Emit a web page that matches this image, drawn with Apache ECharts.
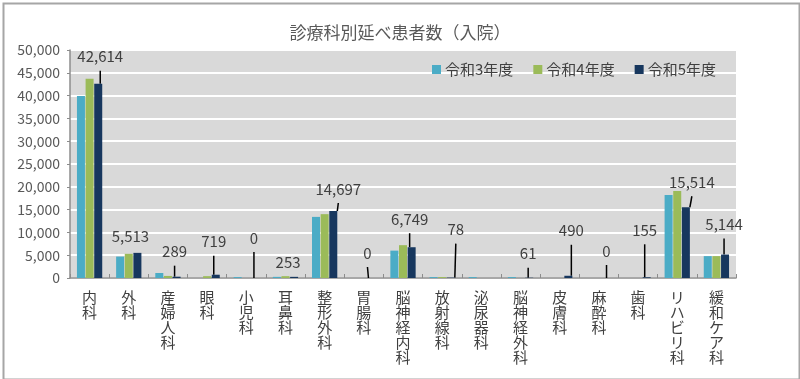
<!DOCTYPE html>
<html>
<head>
<meta charset="utf-8">
<script src="https://cdn.jsdelivr.net/npm/echarts@6/dist/echarts.min.js"></script>
<style>
html,body{margin:0;padding:0;background:#fff;}
#main{width:800px;height:379px;}
</style>
</head>
<body>
<div id="main"></div>
<script>
var categories = ['内科','外科','産婦人科','眼科','小児科','耳鼻科','整形外科','胃腸科','脳神経内科','放射線科','泌尿器科','脳神経外科','皮膚科','麻酔科','歯科','リハビリ科','緩和ケア科'];
var seriesNames = ['令和3年度','令和4年度','令和5年度'];
var r3 = [39900, 4700, 1100, 0, 200, 250, 13400, 0, 6000, 200, 200, 200, 0, 0, 0, 18200, 4800];
var r4 = [43700, 5300, 450, 400, 0, 400, 14000, 0, 7200, 200, 0, 0, 0, 0, 0, 19100, 4800];
var r5 = [42614, 5513, 289, 719, 0, 253, 14697, 0, 6749, 78, null, 61, 490, 0, 155, 15514, 5144];
var yTicks = [0, 50000, 5000];

// label offsets (dx, dy) for the 令和5年度 data labels
var labelOffsets = [[2,-14],[-7,-4],[-2,-12],[-2,-20],[-1,-27],[-6,-2],[5,-9],[-5,-12],[-2,-15],[5,-35],[0,0],[-1,-11],[3,-32],[-1,-14],[-2,-34],[6,-12],[-1,-17]];
var lineCats = {0:1,2:1,3:1,4:1,6:1,7:1,8:1,9:1,11:1,12:1,13:1,14:1,15:1,16:1};
var labelLH = 28;
var labelShift = 6;

var font = '"Noto Sans CJK JP", "Noto Sans", sans-serif';
var colors = ['#4bacc6', '#9bbb59', '#17375e'];

var chart = echarts.init(document.getElementById('main'), null, {renderer: 'canvas'});

var r5Data = r5.map(function(v, i){
  var item = {value: v};
  if (!lineCats[i]) item.labelLine = {show: false};
  return item;
});

var option = {
  animation: false,
  color: colors,
  title: {
    text: '診療科別延べ患者数（入院）',
    left: 395, top: 19, textAlign: 'center',
    textStyle: {fontFamily: font, fontSize: 17, fontWeight: 'normal', color: '#595959'}
  },
  legend: {
    data: seriesNames,
    left: 427, top: 57,
    itemWidth: 9, itemHeight: 9, itemGap: 20,
    icon: 'rect',
    textStyle: {fontFamily: font, fontSize: 15, color: '#404040', padding: [0,0,0,-1]}
  },
  graphic: [{
    type: 'rect', left: 1, top: 1, z: -10,
    shape: {width: 796, height: 376},
    style: {fill: 'none', stroke: '#a6a6a6', lineWidth: 2}
  }],
  grid: {
    left: 70, right: 64, top: 50, bottom: 101,
    show: true, backgroundColor: '#d9d9d9', borderWidth: 0
  },
  xAxis: {
    type: 'category',
    data: categories,
    axisLine: {show: true, lineStyle: {color: '#8c8c8c', width: 1.5}},
    axisTick: {show: true, inside: true, length: 4, lineStyle: {color: '#8c8c8c'}},
    axisLabel: {
      interval: 0, margin: 12,
      fontFamily: font, fontSize: 15, color: '#404040', lineHeight: 15,
      verticalAlign: 'top',
      formatter: function(v){ return v.split('').join('\n'); }
    }
  },
  yAxis: {
    type: 'value',
    min: yTicks[0], max: yTicks[1], interval: yTicks[2],
    axisLine: {show: true, lineStyle: {color: '#8c8c8c', width: 1.5}},
    axisTick: {show: true, length: 3, lineStyle: {color: '#8c8c8c'}},
    splitLine: {show: true, lineStyle: {color: '#ffffff', width: 2}},
    axisLabel: {
      margin: 10,
      fontFamily: font, fontSize: 14, color: '#595959',
      formatter: function(v){ return v.toLocaleString('en-US'); }
    }
  },
  series: [
    {name: seriesNames[0], type: 'bar', data: r3, barWidth: 8, barGap: '8%'},
    {name: seriesNames[1], type: 'bar', data: r4, barWidth: 8, barGap: '8%'},
    {name: seriesNames[2], type: 'bar', data: r5Data, barWidth: 8, barGap: '8%',
      label: {
        show: true, position: 'top', distance: 5,
        lineHeight: labelLH,
        fontFamily: font, fontSize: 15, color: '#404040',
        formatter: function(p){ return p.value == null ? '' : Number(p.value).toLocaleString('en-US'); }
      },
      labelLine: {show: true, lineStyle: {color: '#000000', width: 1.5}},
      labelLayout: function(p){
        var o = labelOffsets[p.dataIndex] || [0,0];
        return {dx: o[0], dy: o[1] + labelShift};
      }
    }
  ]
};
chart.setOption(option);
</script>
</body>
</html>
